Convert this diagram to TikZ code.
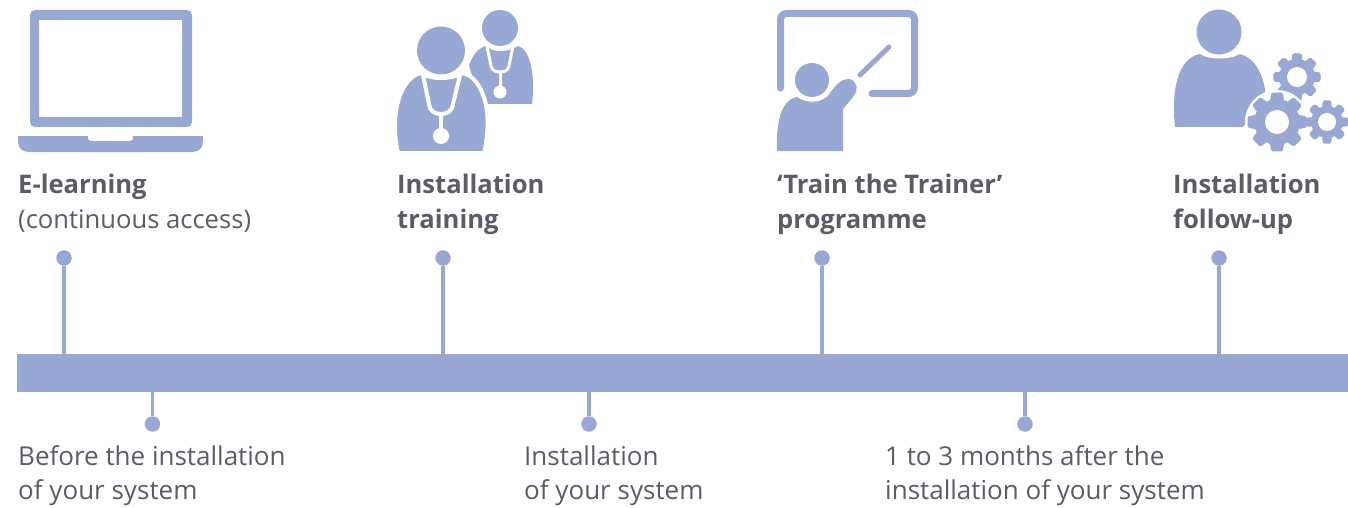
\documentclass[tikz,border=0pt]{standalone}
\usepackage{fontspec}
\setmainfont{Open Sans}
\usepackage{xcolor}
\usetikzlibrary{calc}
\definecolor{barblue}{HTML}{98A8D4}
\definecolor{textgrey}{HTML}{5A5C66}
\newcommand{\gearicon}[5]{% x, y, outer radius, body radius, hole radius
  \fill[iconfill] (#1,#2) circle (#4);
  \foreach \a in {0,45,...,315}
    \fill[iconfill,rounded corners=1.5pt] ($(#1,#2)+(\a-19:#4-1)$) -- ($(#1,#2)+(\a-11:#3)$) -- ($(#1,#2)+(\a+11:#3)$) -- ($(#1,#2)+(\a+19:#4-1)$) -- cycle;
  \fill[white] (#1,#2) circle (#5);
}
\begin{document}
\begin{tikzpicture}[x=1pt,y=-1pt,
    iconfill/.style={fill=barblue,draw=none},
    halo/.style={fill=barblue,draw=white,line width=4pt},
    dotmark/.style={circle,fill=barblue,inner sep=0pt,minimum size=15.5pt},
    stem/.style={draw=barblue,line width=3.5pt},
    heading/.style={anchor=north west,align=left,inner sep=0pt,text=textgrey,font=\fontsize{25.6}{35}\selectfont},
    timelabel/.style={anchor=north west,align=left,inner sep=0pt,text=textgrey,font=\fontsize{26}{34}\selectfont}]
  \useasboundingbox (0,0) rectangle (1348,508);
  % timeline
  \node[fill=barblue,inner sep=0pt,minimum width=1331pt,minimum height=38pt,anchor=north west] (bar) at (17,354) {};
  \node[dotmark] (up1) at (64,258) {};
  \node[dotmark] (up2) at (443,258) {};
  \node[dotmark] (up3) at (822,258) {};
  \node[dotmark] (up4) at (1219,258) {};
  \node[dotmark] (low1) at (152.5,424) {};
  \node[dotmark] (low2) at (589,424) {};
  \node[dotmark] (low3) at (1025,424) {};
  \foreach \n in {up1,up2,up3,up4} \draw[stem] (\n) -- (\n |- bar.north);
  \foreach \n in {low1,low2,low3} \draw[stem] (\n) -- (\n |- bar.south);
  % texts
  \node[heading] (elearn) at (18,173.5) {\textbf{E-learning}\\(continuous access)};
  \node[heading] (insttrain) at (397,173.5) {\textbf{Installation}\\\textbf{training}};
  \node[heading] (trainer) at (777,173.5) {\textbf{‘Train the Trainer’}\\\textbf{programme}};
  \node[heading] (followup) at (1173,173.5) {\textbf{Installation}\\\textbf{follow-up}};
  \node[timelabel] (before) at (18,445.5) {Before the installation\\of your system};
  \node[timelabel] (install) at (524,445.5) {Installation\\of your system};
  \node[timelabel] (after) at (885,445.5) {1 to 3 months after the\\installation of your system};
  % laptop
  \fill[iconfill,rounded corners=5pt,even odd rule] (30,10) rectangle (192,127) [sharp corners] (39,20) rectangle (182,117);
  \fill[iconfill] (18,136) -- (88,136) .. controls (88,140) and (89,141) .. (91,141) -- (130,141) .. controls (132,141) and (133,140) .. (133,136) -- (203,136) -- (203,141) .. controls (203,148) and (199,152) .. (192,152) -- (29,152) .. controls (22,152) and (18,148) .. (18,141) -- cycle;
  % two doctors
  \fill[iconfill] (500,28) circle (18);
  \fill[iconfill] (469,65) .. controls (473,55) and (478,48) .. (486,46) .. controls (490,50) and (496,51) .. (500,51) .. controls (506,51) and (512,50) .. (518,46) .. controls (528,48) and (536,70) .. (532,104) -- (480,104) -- cycle;
  \draw[white,line width=3pt] (487,46) -- (491,66) .. controls (492,71) and (496,72) .. (500,72) .. controls (504,72) and (508,71) .. (509,66) -- (513,46);
  \draw[white,line width=3pt] (500,72) -- (500,88);
  \fill[white] (500,92) circle (6.5);
  \draw[halo] (398,153) .. controls (390,118) and (398,80) .. (420,73) .. controls (428,77) and (434,78) .. (441,78) .. controls (448,78) and (455,77) .. (463,73) .. controls (482,78) and (494,110) .. (484,153) -- cycle;
  \fill[white] (380,152) rectangle (500,165);
  \fill[iconfill] (441,50.5) circle (24);
  \draw[white,line width=4pt] (423,75) -- (429,104) .. controls (430,112) and (436,114) .. (441,114) .. controls (446,114) and (452,112) .. (453,104) -- (460,75);
  \draw[white,line width=4pt] (441,114) -- (441,130);
  \fill[white] (441,136) circle (8);
  % trainer
  \draw[barblue,line width=7pt,line cap=round,rounded corners=6pt] (780.5,88) -- (780.5,13.5) -- (914.5,13.5) -- (914.5,93.5) -- (872,93.5);
  \draw[barblue,line width=5pt,line cap=round] (860,75) -- (889,47);
  \fill[iconfill] (812,80) circle (17);
  \fill[iconfill] (777,151) .. controls (776,125) and (780,100) .. (797,97) .. controls (803,102) and (822,106) .. (830,93) .. controls (836,84) and (842,79) .. (848,79) .. controls (855,79) and (858,86) .. (856,92) .. controls (853,98) and (848,103) .. (843,109) -- (843,151) -- cycle;
  % user with gears
  \fill[iconfill] (1219,32) circle (22.5);
  \fill[iconfill] (1175,127) .. controls (1171,90) and (1178,58) .. (1200,54) .. controls (1207,60) and (1231,60) .. (1240,54) .. controls (1255,58) and (1265,75) .. (1266,100) -- (1243,127) -- cycle;
  \gearicon{1297}{77}{24}{18}{10}
  \fill[white] (1277,122) circle (32);
  \gearicon{1277}{122}{30}{23}{12}
  \gearicon{1327}{122}{22}{16}{9}
\end{tikzpicture}
\end{document}
